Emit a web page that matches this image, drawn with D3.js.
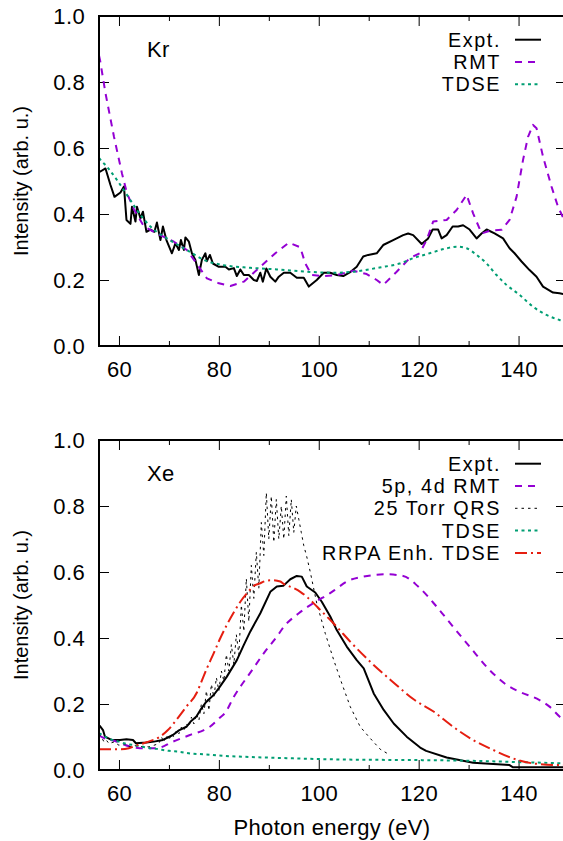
<!DOCTYPE html>
<html>
<head>
<meta charset="utf-8">
<script src="https://cdn.jsdelivr.net/npm/d3@7"></script>
<style>
  body { margin: 0; background: #fff; }
  text { font-family: "Liberation Sans", Arial, sans-serif; font-size: 22px; letter-spacing: 0.35px; fill: #000; }
  .legend text { font-size: 19.8px; letter-spacing: 1.6px; }
</style>
</head>
<body>
<script>
// values: [photon energy (eV), intensity (arb. u.)]

const energyTicks = [60, 80, 100, 120, 140];
const energyMinorTicks = [70, 90, 110, 130];
const intensityTicks = [0, 0.2, 0.4, 0.6, 0.8, 1.0];

const krExpt = [[56,0.53],[56.2,0.528],[57.3,0.538],[58.3,0.488],[59.1,0.452],[60.3,0.465],[61,0.483],[61.5,0.382],[62.3,0.37],[62.6,0.422],[63.3,0.377],[63.6,0.422],[64.3,0.387],[64.8,0.407],[65.5,0.346],[66.3,0.353],[67.1,0.346],[67.6,0.374],[68.3,0.321],[68.8,0.362],[69.5,0.321],[70.6,0.281],[71.3,0.311],[72,0.291],[72.4,0.321],[73,0.291],[73.3,0.329],[74,0.316],[74.6,0.281],[75.3,0.261],[76,0.215],[76.6,0.261],[77.3,0.281],[77.6,0.257],[78.2,0.276],[78.8,0.25],[80,0.24],[81.3,0.24],[82,0.232],[83,0.236],[83.6,0.212],[84.3,0.232],[85,0.215],[86,0.215],[87,0.2],[87.6,0.197],[88.3,0.222],[88.8,0.195],[89.5,0.235],[90.3,0.21],[91.3,0.195],[92,0.21],[93,0.222],[94.3,0.222],[95.6,0.207],[97,0.207],[98,0.18],[99.6,0.2],[101,0.222],[102.3,0.222],[103.6,0.215],[104.9,0.212],[106.2,0.223],[107.6,0.24],[108.9,0.271],[109.9,0.276],[111.6,0.281],[112.9,0.306],[114.9,0.321],[116.9,0.336],[117.9,0.341],[118.9,0.336],[120.6,0.309],[121.9,0.326],[122.8,0.353],[123.9,0.353],[124.6,0.326],[125.6,0.336],[126.8,0.362],[127.9,0.362],[128.9,0.366],[130.2,0.353],[131.6,0.326],[132.6,0.341],[133.6,0.353],[135.2,0.341],[136.9,0.326],[138.2,0.296],[139.2,0.281],[140.6,0.256],[142.2,0.23],[143.6,0.21],[144.9,0.18],[146.9,0.162],[148.2,0.16],[149.5,0.155]];

const krRmt = [[56,0.88],[56.2,0.867],[57.3,0.766],[59,0.634],[60.6,0.523],[61.6,0.463],[63,0.414],[65,0.362],[67.6,0.341],[71,0.316],[73.6,0.291],[76,0.24],[77.6,0.205],[80,0.19],[82.3,0.182],[85,0.195],[88.3,0.24],[91.3,0.281],[94,0.313],[96.3,0.299],[97.3,0.25],[98.6,0.215],[101,0.212],[103.6,0.215],[106.9,0.228],[109.6,0.218],[111.6,0.2],[112.9,0.185],[115.6,0.225],[118.2,0.266],[120.2,0.281],[121.6,0.321],[122.9,0.377],[125.6,0.382],[127.6,0.412],[129.6,0.458],[130.9,0.402],[132.6,0.341],[134.2,0.349],[136.6,0.352],[138.2,0.382],[139.6,0.452],[140.9,0.564],[141.9,0.634],[142.9,0.67],[143.6,0.66],[144.9,0.574],[146.6,0.483],[147.9,0.422],[149.5,0.37]];

const krTdse = [[56,0.57],[56.2,0.566],[57.6,0.543],[59.6,0.503],[61.6,0.458],[63.6,0.412],[66.3,0.362],[69.6,0.326],[73.6,0.291],[77,0.261],[81,0.245],[86.3,0.237],[91.6,0.232],[97.6,0.225],[103.6,0.222],[106.9,0.225],[112.2,0.238],[116.2,0.25],[118.9,0.266],[122.2,0.281],[125.6,0.296],[127.6,0.301],[129.6,0.296],[131.6,0.276],[133.6,0.25],[135.6,0.215],[137.6,0.185],[140.2,0.155],[142.9,0.119],[145.6,0.094],[148.2,0.079],[149.5,0.074]];

const xeExpt = [[56,0.135],[56.2,0.133],[56.8,0.121],[57.2,0.101],[58.5,0.091],[60.2,0.091],[61.5,0.093],[62.8,0.091],[63.4,0.081],[65.5,0.083],[67,0.086],[68.8,0.091],[70.8,0.106],[72,0.12],[73.5,0.131],[74.3,0.146],[75.5,0.162],[76.3,0.182],[77.5,0.207],[79,0.228],[80,0.248],[81.6,0.283],[83.6,0.333],[85,0.379],[86.3,0.42],[88.3,0.475],[90.3,0.54],[91.6,0.556],[92.9,0.558],[94.3,0.578],[95.6,0.588],[96.6,0.586],[97.6,0.556],[99.3,0.538],[100.6,0.51],[102.3,0.465],[103.6,0.424],[105.6,0.374],[107.6,0.333],[109,0.308],[111,0.232],[113,0.182],[115,0.141],[117.6,0.101],[120.3,0.068],[121.5,0.058],[125.6,0.038],[130.9,0.022],[138.2,0.015],[138.9,0.008],[149.5,0.008]];

const xeRmt = [[56,0.105],[56.2,0.103],[59.5,0.086],[62.2,0.071],[64.2,0.066],[67.5,0.066],[70.8,0.086],[74.2,0.106],[77,0.121],[78.2,0.131],[80.3,0.16],[81.2,0.172],[83,0.222],[86.3,0.295],[89.3,0.36],[91.6,0.404],[93,0.434],[96,0.475],[99.6,0.512],[102.2,0.535],[103.6,0.55],[105.6,0.571],[108.9,0.586],[113.6,0.593],[116.9,0.588],[119.9,0.556],[123.6,0.495],[126.9,0.434],[130.2,0.374],[134.2,0.303],[137.6,0.258],[140.2,0.237],[144.2,0.212],[146.2,0.192],[148.2,0.162],[149.5,0.145]];

const xeQrs = [[56,0.11],[56.5,0.1],[57,0.085],[57.5,0.09],[58,0.08],[59,0.085],[60,0.075],[61,0.08],[62,0.07],[63,0.075],[64,0.07],[65,0.072],[66,0.07],[67,0.075],[68,0.08],[68.5,0.1],[69,0.085],[69.5,0.105],[70,0.09],[70.5,0.11],[71,0.1],[71.5,0.12],[72,0.11],[72.5,0.13],[73,0.12],[73.5,0.14],[74,0.13],[74.5,0.16],[75,0.14],[75.5,0.17],[76,0.15],[76.5,0.2],[77,0.17],[77.5,0.24],[78,0.18],[78.5,0.26],[79,0.22],[79.5,0.28],[80,0.24],[80.5,0.3],[81,0.27],[81.5,0.35],[82,0.3],[82.5,0.38],[83,0.32],[83.5,0.41],[84,0.35],[84.5,0.5],[85,0.42],[85.5,0.58],[86,0.45],[86.5,0.62],[87,0.52],[87.5,0.66],[88,0.55],[88.5,0.75],[89,0.65],[89.5,0.84],[90,0.7],[90.5,0.83],[91,0.69],[91.5,0.82],[92,0.7],[92.5,0.8],[93,0.7],[93.5,0.83],[94,0.71],[94.5,0.82],[95,0.72],[95.5,0.8],[96,0.76],[96.5,0.72],[97,0.68],[97.6,0.646],[98.3,0.6],[99.6,0.505],[101.3,0.414],[103,0.333],[104.6,0.263],[106.3,0.192],[108.3,0.131],[110.3,0.096],[112.3,0.063],[114.3,0.045]];

const xeTdse = [[56,0.112],[58.3,0.093],[59.5,0.088],[61,0.081],[63.5,0.074],[66,0.067],[67.5,0.064],[70,0.058],[72.2,0.055],[74.3,0.05],[76.8,0.048],[80.8,0.043],[85,0.04],[91,0.037],[98,0.034],[103.6,0.032],[110,0.031],[120,0.03],[130,0.028],[140,0.024],[149.5,0.02]];

const xeRrpa = [[56,0.063],[60.3,0.063],[62,0.066],[63,0.072],[65.5,0.084],[68.2,0.101],[69.8,0.121],[71.5,0.152],[73.5,0.192],[75.6,0.235],[76.3,0.26],[77.6,0.308],[79,0.355],[80.3,0.4],[81.6,0.44],[83,0.478],[84.3,0.51],[85.6,0.535],[87,0.558],[88.3,0.566],[89.6,0.574],[90.6,0.575],[92.3,0.571],[93,0.564],[95,0.551],[96.3,0.54],[97.6,0.525],[99,0.505],[100.3,0.485],[102.6,0.45],[103.6,0.434],[106.3,0.389],[110.3,0.328],[114.6,0.27],[119.2,0.212],[122.9,0.178],[126.9,0.131],[130.9,0.091],[134.9,0.061],[138.9,0.035],[142.9,0.02],[148.2,0.015],[149.5,0.015]];

// line styles, kept apart from the values
const styles = {
  expt: {color: "#000000", width: 2, dash: null, curve: d3.curveLinear},
  rmt:  {color: "#9400d3", width: 2, dash: "7,6", curve: d3.curveLinear},
  qrs:  {color: "#000000", width: 1, dash: "2.5,4", curve: d3.curveLinear},
  tdse: {color: "#009e73", width: 2, dash: "3,3.5", curve: d3.curveMonotoneX},
  rrpa: {color: "#e51e10", width: 2, dash: "12,4,2,4", curve: d3.curveMonotoneX}
};

const panels = [
  {name: "Kr", top: 16, series: [
    {label: "Expt.", data: krExpt, style: "expt"},
    {label: "RMT", data: krRmt, style: "rmt"},
    {label: "TDSE", data: krTdse, style: "tdse"}
  ]},
  {name: "Xe", top: 440, series: [
    {label: "Expt.", data: xeExpt, style: "expt"},
    {label: "5p, 4d RMT", data: xeRmt, style: "rmt", curve: d3.curveMonotoneX},
    {label: "25 Torr QRS", data: xeQrs, style: "qrs"},
    {label: "TDSE", data: xeTdse, style: "tdse"},
    {label: "RRPA Enh. TDSE", data: xeRrpa, style: "rrpa"}
  ]}
];

let svg = null;
let x = null;
const left = 99, right = 566, panelHeight = 330;

appendSvg("body");
setupXScale();
panels.forEach((p, i) => drawPanel(p, i));
appendXLabel();

function appendSvg(domElement) {
  svg = d3.select(domElement).append("svg")
    .attr("width", 563)
    .attr("height", 841);
}

function setupXScale() {
  x = d3.scaleLinear().domain([56, 149.5]).range([left, right]);
}

function drawPanel(p, i) {
  const y = d3.scaleLinear().domain([0, 1]).range([p.top + panelHeight, p.top]);
  const g = svg.append("g");

  g.append("clipPath").attr("id", "clip" + i)
    .append("rect")
    .attr("x", left).attr("y", p.top)
    .attr("width", right - left).attr("height", panelHeight);

  // ticks: major and minor on bottom, mirrored on top; y on both sides
  const bottom = g.append("g").attr("transform", `translate(0, ${p.top + panelHeight})`)
    .call(d3.axisBottom(x).tickValues(energyTicks).tickSizeInner(-10).tickSizeOuter(0).tickPadding(16));
  g.append("g").attr("transform", `translate(0, ${p.top + panelHeight})`)
    .call(d3.axisBottom(x).tickValues(energyMinorTicks).tickSizeInner(-5).tickSizeOuter(0).tickFormat(""));
  g.append("g").attr("transform", `translate(0, ${p.top})`)
    .call(d3.axisTop(x).tickValues(energyTicks).tickSizeInner(-10).tickSizeOuter(0).tickFormat(""));
  g.append("g").attr("transform", `translate(0, ${p.top})`)
    .call(d3.axisTop(x).tickValues(energyMinorTicks).tickSizeInner(-5).tickSizeOuter(0).tickFormat(""));
  g.append("g").attr("transform", `translate(${left}, 0)`)
    .call(d3.axisLeft(y).tickValues(intensityTicks).tickSizeInner(-10).tickSizeOuter(0).tickPadding(14).tickFormat(d3.format(".1f")));
  g.append("g").attr("transform", `translate(${right}, 0)`)
    .call(d3.axisRight(y).tickValues(intensityTicks).tickSizeInner(-10).tickSizeOuter(0).tickFormat(""));

  g.selectAll(".domain").remove();
  g.selectAll(".tick line").attr("stroke", "#000").attr("stroke-width", 1);
  g.selectAll(".tick text").attr("font-size", null).attr("font-family", null);
  bottom.selectAll(".tick text").attr("dy", "0.68em");

  // curves
  const plot = g.append("g").attr("clip-path", `url(#clip${i})`);
  p.series.forEach(s => {
    const st = styles[s.style];
    const line = d3.line()
      .x(d => x(d[0]))
      .y(d => y(d[1]))
      .curve(s.curve || st.curve);
    plot.append("path")
      .datum(s.data)
      .attr("fill", "none")
      .attr("stroke", st.color)
      .attr("stroke-width", st.width)
      .attr("stroke-dasharray", st.dash)
      .attr("stroke-linejoin", "round")
      .attr("d", line);
  });

  // frame
  g.append("rect")
    .attr("x", left).attr("y", p.top)
    .attr("width", right - left).attr("height", panelHeight)
    .attr("fill", "none").attr("stroke", "#000").attr("stroke-width", 2);

  // element name
  g.append("text").attr("x", 147).attr("y", p.top + 41).text(p.name);

  // legend
  const legend = g.append("g").attr("class", "legend");
  p.series.forEach((s, k) => {
    const st = styles[s.style];
    const base = p.top + 30.7 + k * 22.3;
    legend.append("text")
      .attr("x", 501).attr("y", base)
      .attr("text-anchor", "end")
      .text(s.label);
    legend.append("line")
      .attr("x1", 515).attr("x2", 541)
      .attr("y1", base - 7).attr("y2", base - 7)
      .attr("stroke", st.color)
      .attr("stroke-width", st.width)
      .attr("stroke-dasharray", st.dash);
  });

  // y label
  svg.append("text")
    .attr("transform", `translate(28, ${p.top + panelHeight / 2}) rotate(-90)`)
    .attr("text-anchor", "middle")
    .style("font-size", "20px")
    .style("letter-spacing", "0px")
    .text("Intensity (arb. u.)");
}

function appendXLabel() {
  svg.append("text")
    .attr("x", 332).attr("y", 835)
    .attr("text-anchor", "middle")
    .text("Photon energy (eV)");
}
</script>
</body>
</html>
